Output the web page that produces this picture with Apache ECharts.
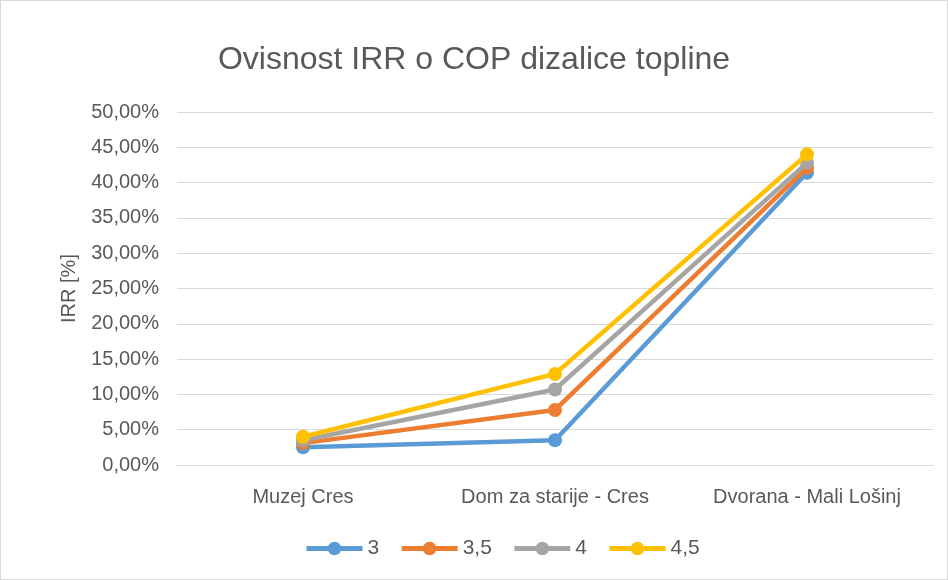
<!DOCTYPE html>
<html>
<head>
<meta charset="utf-8">
<script src="https://cdn.jsdelivr.net/npm/echarts@6/dist/echarts.min.js"></script>
<style>
  html, body { margin: 0; padding: 0; background: #fff; }
  #chart { width: 946px; height: 578px; border: 1px solid #d9d9d9; }
</style>
</head>
<body>
<div id="chart"></div>
<script>
// podaci
const categories = ['Muzej Cres', 'Dom za starije - Cres', 'Dvorana - Mali Lošinj']
const seriesNames = ['3', '3,5', '4', '4,5']
const cop3 = [2.5, 3.5, 41.4]
const cop35 = [3.1, 7.8, 42.1]
const cop4 = [3.5, 10.7, 42.8]
const cop45 = [4.0, 12.9, 44.0]
const colors = ['#5b9bd5', '#ed7d31', '#a5a5a5', '#ffc000']

const chart = echarts.init(document.getElementById('chart'))

const fmt = v => v.toFixed(2).replace('.', ',') + '%'

const makeSeries = (name, data, i) => ({
  name: name,
  type: 'line',
  data: data,
  symbol: 'circle',
  symbolSize: 14,
  itemStyle: { color: colors[i] },
  lineStyle: { width: 4.5, color: colors[i] },
  z: 2 + i
})

const option = {
  animation: false,
  textStyle: { fontFamily: 'Liberation Sans, Open Sans, sans-serif' },
  title: {
    text: 'Ovisnost IRR o COP dizalice topline',
    left: 'center',
    top: 38,
    textStyle: { fontSize: 32, fontWeight: 'normal', color: '#595959' }
  },
  legend: {
    bottom: 15,
    left: 298,
    itemWidth: 56,
    itemHeight: 17,
    itemGap: 20,
    lineStyle: { width: 5 },
    textStyle: { fontSize: 21, color: '#595959' },
    data: seriesNames
  },
  grid: {
    left: 176,
    right: 14,
    top: 111,
    bottom: 114
  },
  xAxis: {
    type: 'category',
    data: categories,
    axisLine: { lineStyle: { color: '#d9d9d9', width: 1 } },
    axisTick: { show: false },
    axisLabel: { fontSize: 20, color: '#595959', margin: 22 }
  },
  yAxis: {
    type: 'value',
    min: 0,
    max: 50,
    interval: 5,
    name: 'IRR [%]',
    nameLocation: 'middle',
    nameGap: 98,
    nameTextStyle: { fontSize: 20, color: '#595959' },
    axisLine: { show: false },
    axisTick: { show: false },
    axisLabel: { fontSize: 20, color: '#595959', margin: 18, formatter: fmt },
    splitLine: { lineStyle: { color: '#d9d9d9', width: 1 } }
  },
  series: [
    makeSeries(seriesNames[0], cop3, 0),
    makeSeries(seriesNames[1], cop35, 1),
    makeSeries(seriesNames[2], cop4, 2),
    makeSeries(seriesNames[3], cop45, 3)
  ]
}

chart.setOption(option)
</script>
</body>
</html>
